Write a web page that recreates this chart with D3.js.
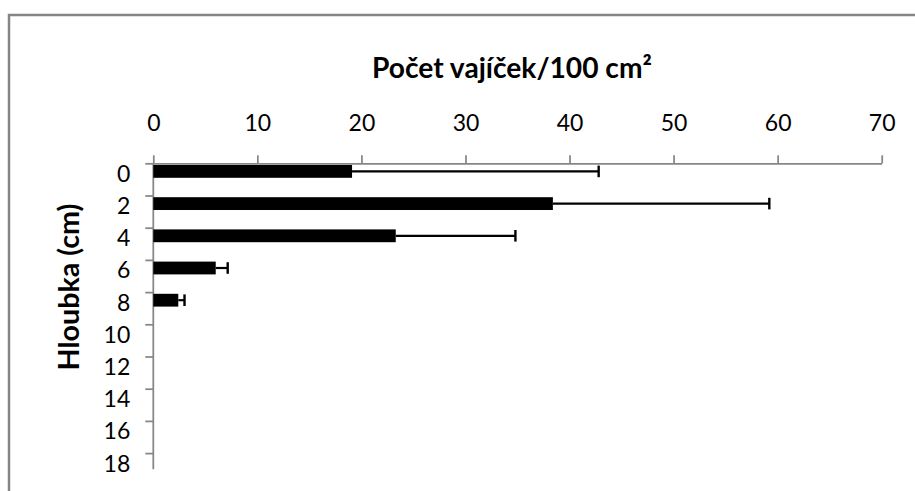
<!DOCTYPE html>
<html>
<head>
<meta charset="utf-8">
<script src="https://cdn.jsdelivr.net/npm/d3@7"></script>
<style>
  html, body { margin: 0; padding: 0; background: #fff; }
  svg { display: block; }
  text { font-family: Lato, "Open Sans", sans-serif; fill: #000; }
</style>
</head>
<body>
<svg id="chart" width="915" height="491"></svg>
<script>
// Depth categories (cm) and egg counts per 100 cm²
const depths = ["0", "2", "4", "6", "8", "10", "12", "14", "16", "18"];
const eggs = [19.1, 38.4, 23.3, 6.0, 2.4, null, null, null, null, null];
const errPlus = [23.7, 20.8, 11.5, 1.15, 0.6, null, null, null, null, null];
const xTicks = [0, 10, 20, 30, 40, 50, 60, 70];
const chartTitle = "Počet vajíček/100 cm²";
const yTitle = "Hloubka (cm)";

const svg = d3.select("#chart");
const axisColor = "#868686";

// Outer chart frame
svg.append("rect")
  .attr("x", 9).attr("y", 15)
  .attr("width", 940).attr("height", 520)
  .attr("fill", "none")
  .attr("stroke", axisColor)
  .attr("stroke-width", 2.5);

const plot = { left: 153.3, right: 881.7, top: 163.3, band: 32.2, bottom: 469.3 };

const x = d3.scaleLinear().domain([0, 70]).range([plot.left, plot.right]);
const y = d3.scalePoint()
  .domain(depths)
  .range([plot.top, plot.top + plot.band * (depths.length - 1)]);

// Value axis along the top
const xAxis = svg.append("g")
  .attr("transform", `translate(0,${plot.top})`)
  .call(d3.axisTop(x).tickValues(xTicks).tickSize(8).tickPadding(24).tickSizeOuter(0));
xAxis.select(".domain").attr("stroke", axisColor).attr("stroke-width", 1.75);
xAxis.selectAll(".tick line").attr("stroke", axisColor).attr("stroke-width", 1.75);
xAxis.selectAll(".tick text")
  .attr("font-family", "Lato, sans-serif")
  .attr("font-size", 23)
  .attr("dy", 0)
  .attr("fill", "#000");

// Category axis on the left
const yAxis = svg.append("g")
  .attr("transform", `translate(${plot.left},0)`)
  .call(d3.axisLeft(y).tickSize(8).tickPadding(15).tickSizeOuter(0));
yAxis.select(".domain").remove();
yAxis.append("line")
  .attr("x1", 0).attr("x2", 0)
  .attr("y1", plot.top).attr("y2", plot.bottom)
  .attr("stroke", axisColor).attr("stroke-width", 1.75);
yAxis.selectAll(".tick line").attr("stroke", axisColor).attr("stroke-width", 1.75);
yAxis.selectAll(".tick text")
  .attr("font-family", "Lato, sans-serif")
  .attr("font-size", 23)
  .attr("dy", 0)
  .attr("y", 18)
  .attr("fill", "#000");

// Bars
const rows = depths.map((d, i) => ({ depth: d, value: eggs[i], err: errPlus[i] }))
  .filter(r => r.value != null);

const barTop = 1.7, barH = 12.8, barMid = barTop + barH / 2;

svg.append("g").selectAll("rect")
  .data(rows)
  .join("rect")
  .attr("x", x(0))
  .attr("y", r => y(r.depth) + barTop)
  .attr("width", r => x(r.value) - x(0))
  .attr("height", barH)
  .attr("fill", "#000");

// Error bars (plus direction)
const eb = svg.append("g").attr("stroke", "#000");
eb.selectAll("line.stem")
  .data(rows)
  .join("line")
  .attr("class", "stem")
  .attr("x1", r => x(r.value))
  .attr("x2", r => x(r.value + r.err))
  .attr("y1", r => y(r.depth) + barMid)
  .attr("y2", r => y(r.depth) + barMid)
  .attr("stroke-width", 2.2);
eb.selectAll("line.cap")
  .data(rows)
  .join("line")
  .attr("class", "cap")
  .attr("x1", r => x(r.value + r.err))
  .attr("x2", r => x(r.value + r.err))
  .attr("y1", r => y(r.depth) + barMid - 5.8)
  .attr("y2", r => y(r.depth) + barMid + 5.8)
  .attr("stroke-width", 2.4);

// Fit a text element to a given width by adjusting its font size
function fitWidth(sel, width) {
  const node = sel.node();
  const base = parseFloat(sel.attr("font-size"));
  const w = node.getComputedTextLength();
  if (w > 0) sel.attr("font-size", base * width / w);
}

// Chart title
const t = svg.append("text")
  .attr("x", 512).attr("y", 77.5)
  .attr("text-anchor", "middle")
  .attr("font-weight", "bold")
  .attr("font-size", 28)
  .text(chartTitle);
fitWidth(t, 280);

// Category axis title
const yt = svg.append("text")
  .attr("transform", "translate(79,287) rotate(-90)")
  .attr("text-anchor", "middle")
  .attr("font-weight", "bold")
  .attr("font-size", 28)
  .text(yTitle);
fitWidth(yt, 167);
</script>
</body>
</html>
